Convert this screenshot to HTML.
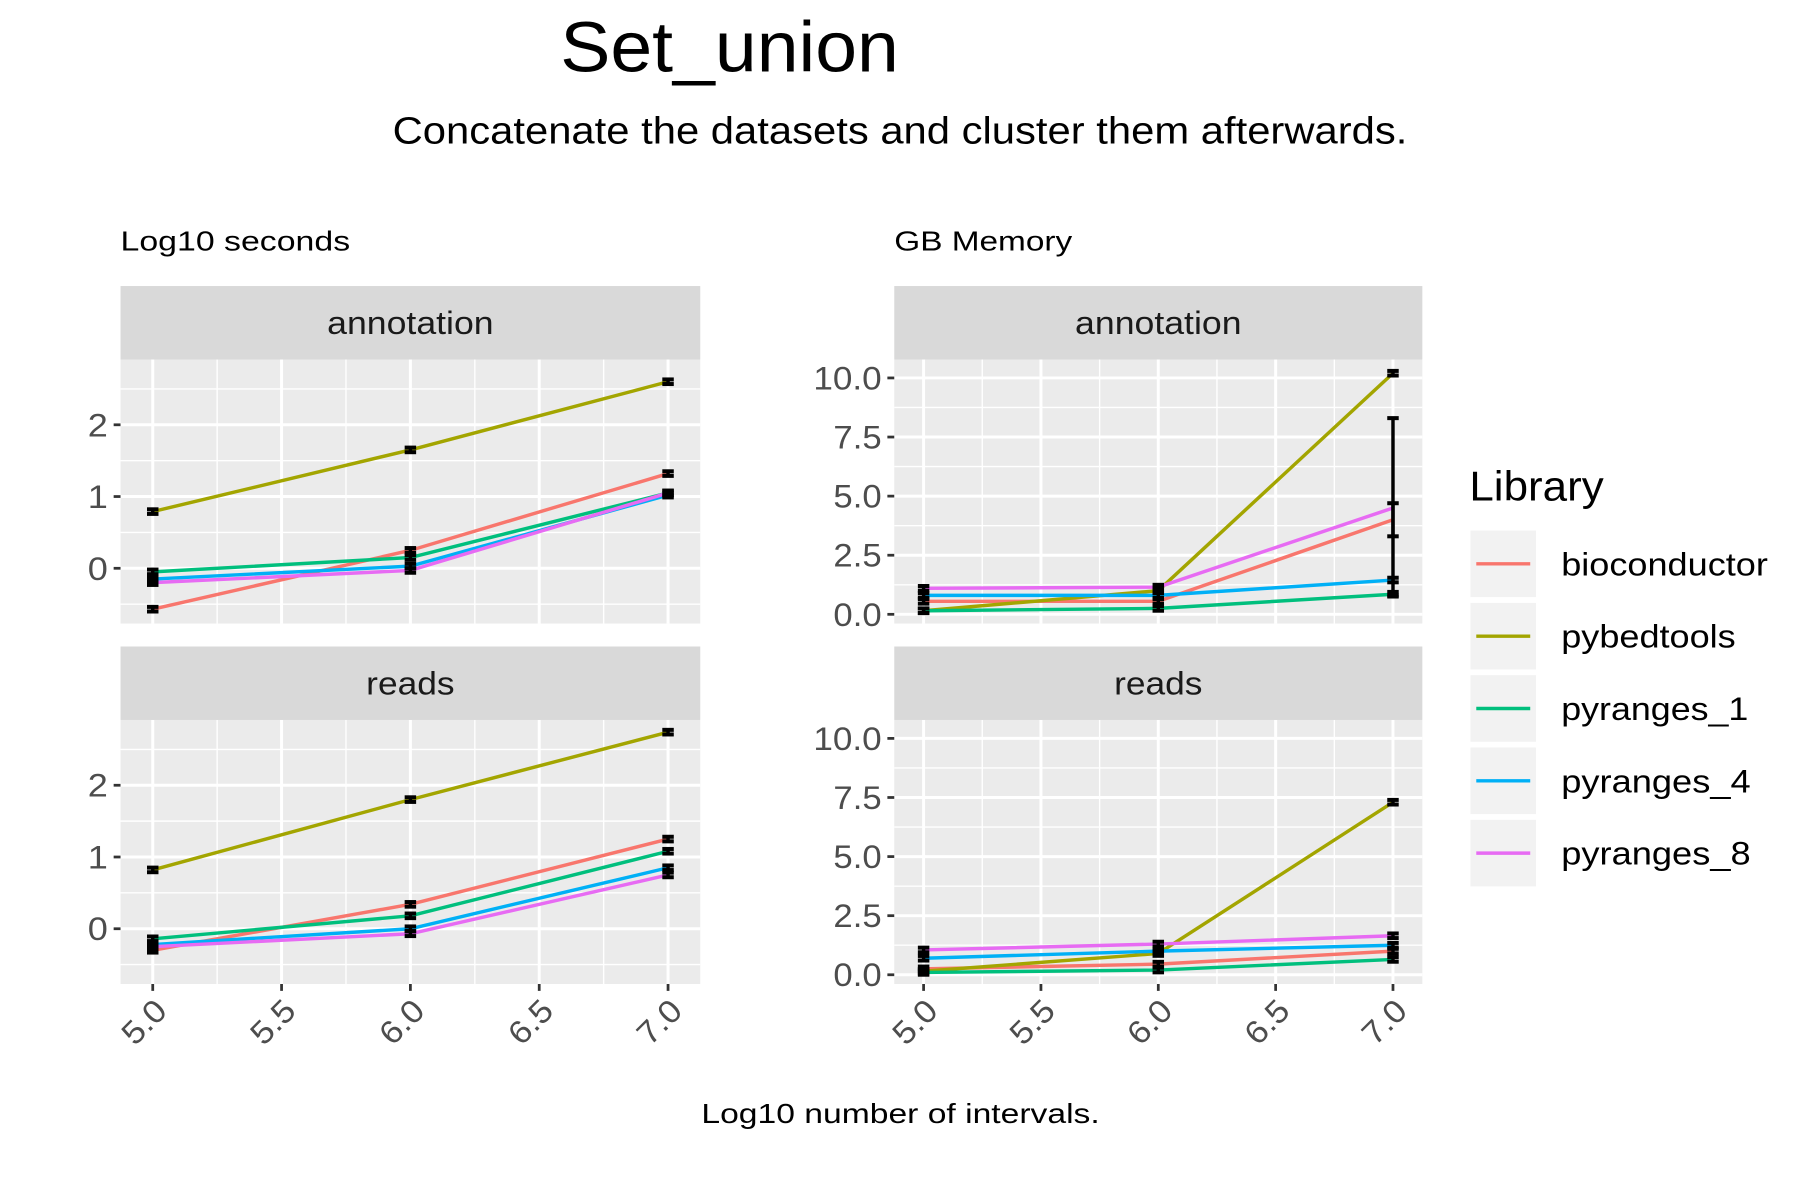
<!DOCTYPE html>
<html><head><meta charset="utf-8"><style>
html,body{margin:0;padding:0;background:#fff;}
svg{display:block;font-family:"Liberation Sans",Arial,sans-serif;}
</style></head><body>
<svg id="chart" width="1800" height="1200" viewBox="0 0 1568 1045" xmlns="http://www.w3.org/2000/svg">
<rect width="1568" height="1045" fill="#fff"/>
<text x="488" y="62" font-size="62" fill="#000" textLength="295" lengthAdjust="spacingAndGlyphs">Set_union</text>
<text x="342" y="125" font-size="33" fill="#000" textLength="884" lengthAdjust="spacingAndGlyphs">Concatenate the datasets and cluster them afterwards.</text>
<text x="105" y="218" font-size="24" fill="#000" textLength="200" lengthAdjust="spacingAndGlyphs">Log10 seconds</text>
<text x="779" y="218" font-size="24" fill="#000" textLength="155" lengthAdjust="spacingAndGlyphs">GB Memory</text>
<text x="611" y="978" font-size="24" fill="#000" textLength="347" lengthAdjust="spacingAndGlyphs">Log10 number of intervals.</text>
<g id="panels"></g>
<g id="legend"></g>
</svg>
<script>
const libraries = ["bioconductor","pybedtools","pyranges_1","pyranges_4","pyranges_8"];
const colors = ["#F8766D","#A3A500","#00BF7D","#00B0F6","#E76BF3"];
const xValues = [5,6,7];
const xTicks = [5,5.5,6,6.5,7];
const xTickLabels = ["5.0","5.5","6.0","6.5","7.0"];
// Log10 seconds - annotation
const timeAnnotation = [[-0.57,0.25,1.32],[0.79,1.65,2.6],[-0.05,0.15,1.05],[-0.15,0.03,1.02],[-0.2,-0.03,1.05]];
// Log10 seconds - reads
const timeReads = [[-0.3,0.34,1.25],[0.82,1.8,2.74],[-0.14,0.18,1.08],[-0.22,0.0,0.85],[-0.25,-0.07,0.75]];
// GB memory - annotation
const memAnnotation = [[0.55,0.55,4.0],[0.15,1.0,10.2],[0.15,0.25,0.85],[0.8,0.8,1.45],[1.1,1.15,4.5]];
// GB memory - reads
const memReads = [[0.25,0.45,1.0],[0.15,0.9,7.3],[0.1,0.2,0.65],[0.7,1.0,1.25],[1.05,1.3,1.65]];
// error bar bounds (memory annotation)
const memAnnotErrLo = [[0.55,0.55,3.3],[0.15,1.0,10.15],[0.15,0.25,0.8],[0.8,0.8,1.4],[1.1,1.15,0.8]];
const memAnnotErrHi = [[0.55,0.55,4.7],[0.15,1.0,10.25],[0.15,0.25,0.9],[0.8,0.8,1.5],[1.1,1.15,8.3]];
const timeTicks = [0,1,2];
const timeMinor = [-0.5,0.5,1.5,2.5];
const memTicks = [0,2.5,5,7.5,10];
const memTickLabels = ["0.0","2.5","5.0","7.5","10.0"];
const memMinor = [1.25,3.75,6.25,8.75];
const xMinor = [5.25,5.75,6.25,6.75];

const NS="http://www.w3.org/2000/svg";
const root=document.getElementById('panels');
function el(tag,attrs,parent){const e=document.createElementNS(NS,tag);for(const k in attrs)e.setAttribute(k,attrs[k]);(parent||root).appendChild(e);return e;}
function labLen(s){let w=0;for(const c of s)w+=(c==='.')?7:17.5;return w;}

function panel(cfg){
  const {x0,x1,y0,y1,strip,stripLen,data,yMin,yMax,yTicks,yLabels,yMinor,showX,lo,hi,name}=cfg;
  const g=el('g',{});
  
  
  const sx=v=>x0+(v-4.875)/2.25*(x1-x0);
  const sy=v=>y1-(v-yMin)/(yMax-yMin)*(y1-y0);
  const st=el('rect',{x:x0,y:y0-64,width:x1-x0,height:64,fill:'#d9d9d9'},g);
  
  
  const stt=el('text',{x:(x0+x1)/2-stripLen/2,y:y0-22,'font-size':28,fill:'#1a1a1a',textLength:stripLen,lengthAdjust:'spacingAndGlyphs'},g);
  stt.textContent=strip;
  
  
  el('rect',{x:x0,y:y0,width:x1-x0,height:y1-y0,fill:'#ebebeb'},g);
  yMinor.forEach(v=>el('line',{x1:x0,x2:x1,y1:sy(v),y2:sy(v),stroke:'#fff','stroke-width':1.2},g));
  xMinor.forEach(v=>el('line',{x1:sx(v),x2:sx(v),y1:y0,y2:y1,stroke:'#fff','stroke-width':1.2},g));
  yTicks.forEach((v,i)=>{
    el('line',{x1:x0,x2:x1,y1:sy(v),y2:sy(v),stroke:'#fff','stroke-width':2.6},g);
    el('line',{x1:x0-6,x2:x0,y1:sy(v),y2:sy(v),stroke:'#333','stroke-width':2.4},g);
    const L=labLen(yLabels[i]);
    const t=el('text',{x:x0-11-L,y:sy(v)+10,'font-size':28,fill:'#4d4d4d',textLength:L,lengthAdjust:'spacingAndGlyphs'},g);
    t.textContent=yLabels[i];
    
    
  });
  xTicks.forEach((v,i)=>{
    el('line',{x1:sx(v),x2:sx(v),y1:y0,y2:y1,stroke:'#fff','stroke-width':2.6},g);
    if(showX){
      el('line',{x1:sx(v),x2:sx(v),y1:y1,y2:y1+6,stroke:'#333','stroke-width':2.4},g);
      const L=labLen(xTickLabels[i]);
      const ax=sx(v)+14, ay=y1+25;
      const t=el('text',{x:ax-L,y:ay,'font-size':28,fill:'#4d4d4d',textLength:L,lengthAdjust:'spacingAndGlyphs',transform:`rotate(-45 ${ax} ${ay})`},g);
      t.textContent=xTickLabels[i];
      
      
    }
  });
  data.forEach((s,si)=>{
    const p=el('polyline',{points:s.map((v,i)=>sx(xValues[i])+','+sy(v)).join(' '),fill:'none',stroke:colors[si],'stroke-width':3},g);
    
    
  });
  data.forEach((s,si)=>{
    s.forEach((v,i)=>{
      const cx=sx(xValues[i]);
      let yl=lo?sy(lo[si][i]):sy(v), yh=hi?sy(hi[si][i]):sy(v);
      if(Math.abs(yl-yh)<4){const m=(yl+yh)/2;yl=m+2;yh=m-2;}
      el('line',{x1:cx,x2:cx,y1:yl,y2:yh,stroke:'#000','stroke-width':3},g);
      el('line',{x1:cx-5,x2:cx+5,y1:yl,y2:yl,stroke:'#000','stroke-width':3.5},g);
      const cap=el('line',{x1:cx-5,x2:cx+5,y1:yh,y2:yh,stroke:'#000','stroke-width':3.5},g);
      
      
    });
  });
}
const tl=timeTicks.map(String);
panel({name:'time-annotation-panel',x0:105,x1:610,y0:313,y1:543,strip:'annotation',stripLen:145,data:timeAnnotation,yMin:-0.77,yMax:2.91,yTicks:timeTicks,yLabels:tl,yMinor:timeMinor,showX:false});
panel({name:'time-reads-panel',x0:105,x1:610,y0:627,y1:857,strip:'reads',stripLen:77,data:timeReads,yMin:-0.77,yMax:2.91,yTicks:timeTicks,yLabels:tl,yMinor:timeMinor,showX:true});
panel({name:'memory-annotation-panel',x0:779,x1:1239,y0:313,y1:543,strip:'annotation',stripLen:145,data:memAnnotation,yMin:-0.39,yMax:10.78,yTicks:memTicks,yLabels:memTickLabels,yMinor:memMinor,showX:false,lo:memAnnotErrLo,hi:memAnnotErrHi});
panel({name:'memory-reads-panel',x0:779,x1:1239,y0:627,y1:857,strip:'reads',stripLen:77,data:memReads,yMin:-0.39,yMax:10.78,yTicks:memTicks,yLabels:memTickLabels,yMinor:memMinor,showX:true});

const lg=document.getElementById('legend');
const lt=el('text',{x:1280,y:436,'font-size':36,fill:'#000',textLength:117,lengthAdjust:'spacingAndGlyphs'},lg);
lt.textContent='Library';


const legendLens=[180,152,163,165,165];
libraries.forEach((n,i)=>{
  const y=462+i*63;
  const gi=el('g',{},lg);
  
  
  el('rect',{x:1281,y:y,width:57,height:58,fill:'#f2f2f2'},gi);
  el('line',{x1:1286,x2:1333,y1:y+29,y2:y+29,stroke:colors[i],'stroke-width':3},gi);
  const t=el('text',{x:1360,y:y+39,'font-size':28,fill:'#000',textLength:legendLens[i],lengthAdjust:'spacingAndGlyphs'},gi);
  t.textContent=n;
});
</script>
</body></html>
